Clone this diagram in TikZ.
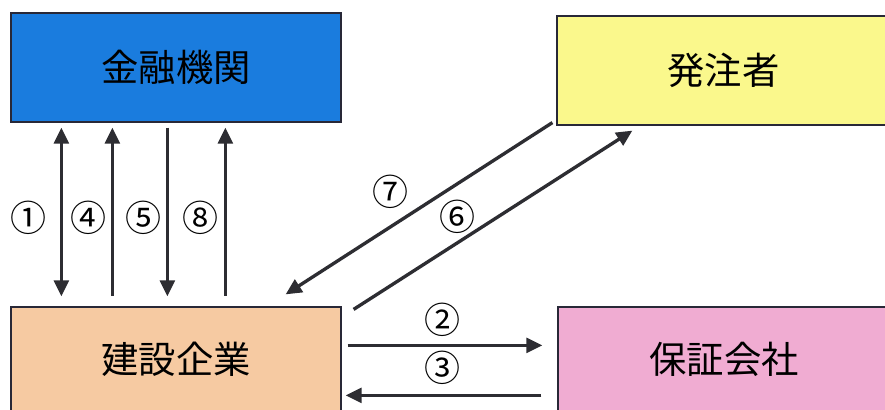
\documentclass[tikz,border=0pt]{standalone}
\usepackage{fontspec}
\setmainfont{Noto Sans CJK JP}
\usetikzlibrary{arrows.meta,calc}
\definecolor{azul}{RGB}{26,124,222}
\definecolor{amarillo}{RGB}{250,248,140}
\definecolor{naranja}{RGB}{246,202,162}
\definecolor{rosa}{RGB}{240,172,210}
\definecolor{borde}{RGB}{40,40,55}
\definecolor{linea}{RGB}{45,45,50}
\begin{document}
\begin{tikzpicture}[x=0.75pt,y=-0.75pt,
    caja/.style={draw=borde,line width=0.9pt,inner sep=0pt,
      minimum width=247.5pt,minimum height=81.75pt,
      font=\fontsize{28pt}{30pt}\selectfont},
    flecha/.style={draw=linea,line width=2.5pt,
      >={Triangle[length=12pt,width=11pt]}},
    num/.style={font=\fontsize{27pt}{29pt}\selectfont,inner sep=0pt}]
  \useasboundingbox (0,0) rectangle (885,410);
  \fill[white] (0,0) rectangle (885,410);

  % Cajas
  \node[caja,fill=azul] (fin) at (176,67.5) {金融機関};
  \node[caja,fill=amarillo,minimum width=249.75pt] (ord) at (723.5,70.5) {発注者};
  \node[caja,fill=naranja,minimum height=78.75pt] (con) at (176,359.5) {建設企業};
  \node[caja,fill=rosa,minimum width=249pt,minimum height=78.75pt] (gua) at (724,359.5) {保証会社};

  % Flechas verticales
  \foreach \dx/\tip/\txt/\lx [count=\i] in {51/<->/①/28, 102/<-/④/88, 157/->/⑤/143, 215/<-/⑧/200} {
    \draw[flecha,\tip] ($(fin.south west)+(\dx,5)$) -- ($(con.north west)+(\dx,-10)$);
    \node[num] (v\i) at (\lx,218) {\txt};
  }

  % Flechas diagonales
  \draw[flecha,->] ($(ord.south west)+(-4,-3)$) -- ($(con.north east)+(-56,-12)$);
  \draw[flecha,->] ($(con.north east)+(12,3)$) -- ($(ord.south west)+(76,5)$);
  \node[num] (n7) at (390,192) {⑦};
  \node[num] (n6) at (457,217) {⑥};

  % Flechas horizontales
  \draw[flecha,->] ($(con.north east)+(6,39)$) -- ($(gua.north west)+(-15,39)$);
  \draw[flecha,->] ($(gua.north west)+(-16,89)$) -- ($(con.north east)+(4,89)$);
  \node[num] (n2) at (442,320) {②};
  \node[num] (n3) at (442,368) {③};
\end{tikzpicture}
\end{document}
